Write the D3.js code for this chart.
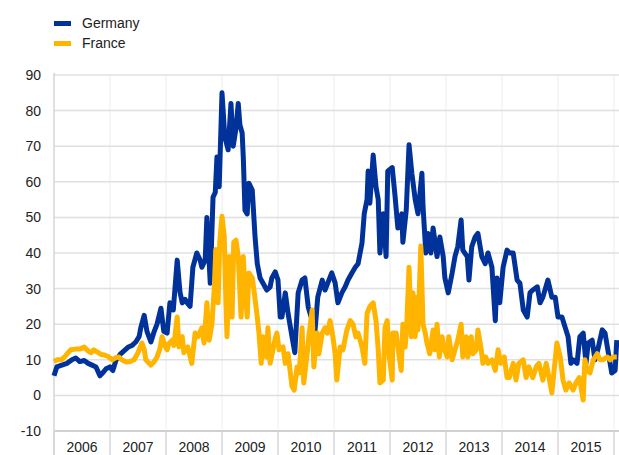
<!DOCTYPE html>
<html><head><meta charset="utf-8">
<script src="https://cdn.jsdelivr.net/npm/d3@7"></script>
<style>body{margin:0;background:#fff;}svg{display:block;font-family:"Liberation Sans",Arial,sans-serif;}</style>
</head><body><svg id="c" width="619" height="455"></svg>
<script>
const seriesNames = ["Germany", "France"];
const seriesColors = ["#003299", "#FFB400"];
const yTicks = [-10, 0, 10, 20, 30, 40, 50, 60, 70, 80, 90];
const yearLabels = ["2006","2007","2008","2009","2010","2011","2012","2013","2014","2015"];

const germanyDates = [2006.00,2006.05,2006.14,2006.23,2006.32,2006.39,2006.46,2006.54,2006.61,2006.68,2006.75,2006.82,2006.88,2006.93,
2007.00,2007.05,2007.11,2007.18,2007.25,2007.32,2007.39,2007.46,2007.52,2007.55,2007.61,2007.66,2007.73,2007.79,2007.84,2007.91,2007.96,
2008.02,2008.07,2008.13,2008.20,2008.25,2008.29,2008.34,2008.38,2008.43,2008.48,2008.55,2008.61,2008.64,2008.70,2008.73,2008.79,2008.84,2008.88,2008.91,2008.95,
2009.00,2009.05,2009.11,2009.16,2009.20,2009.25,2009.29,2009.32,2009.36,2009.38,2009.41,2009.45,2009.48,2009.54,2009.59,2009.63,2009.68,2009.73,2009.80,2009.86,2009.89,2009.95,
2010.00,2010.04,2010.07,2010.13,2010.18,2010.25,2010.30,2010.36,2010.43,2010.48,2010.54,2010.61,2010.66,2010.71,2010.79,2010.84,2010.89,2010.96,
2011.02,2011.07,2011.14,2011.20,2011.25,2011.32,2011.38,2011.43,2011.50,2011.54,2011.59,2011.61,2011.64,2011.70,2011.75,2011.79,2011.82,2011.88,2011.93,2011.96,
2012.04,2012.09,2012.14,2012.21,2012.23,2012.29,2012.34,2012.39,2012.45,2012.50,2012.57,2012.59,2012.64,2012.68,2012.73,2012.77,2012.84,2012.89,2012.95,2012.98,
2013.04,2013.11,2013.16,2013.21,2013.27,2013.30,2013.38,2013.41,2013.46,2013.52,2013.57,2013.64,2013.70,2013.75,2013.82,2013.88,2013.91,2013.96,
2014.02,2014.09,2014.14,2014.20,2014.27,2014.32,2014.38,2014.45,2014.50,2014.55,2014.63,2014.68,2014.73,2014.82,2014.89,2014.95,
2015.00,2015.07,2015.13,2015.18,2015.23,2015.27,2015.34,2015.39,2015.45,2015.50,2015.54,2015.61,2015.66,2015.71,2015.79,2015.84,2015.89,2015.96,2016.02,2016.05];
const germanyValues = [5.5,8,8.5,9,10,10.5,9.5,9.8,9,8.5,8,5.5,6.5,7.5,
8,7,10,11.5,12.5,13.5,14,15,16.5,19,22.5,18,15,18,20,24.5,18,
17.5,26,24,38,29,26,27,26,25,36,40,38,36,38,50,31.5,55.7,57,67,58.6,
85,72.6,69,82,70,75,82,76,73.7,67,52,51,59.6,57.7,44.6,37,33,31.6,29.6,30.5,33,34.7,
32.4,22,22,28.8,23,16.5,12,28.8,32.4,33,24.8,21,18,27.6,32.4,29.6,31.6,34.4,
31.6,26,28.8,30.5,32.4,34.4,36,37,42.8,51,55,63,54,67.5,58.6,55,40,51,39,63,
64,56,47,51,43,52,70.4,62.4,55,51,62.4,53,40,45.5,40,47,39,44.5,39,33,
28.8,34.4,39,41.8,49.3,40.8,39,32.4,41.8,44.5,45.5,39,37,40,36,21,33,26,
36,40.8,40,40,32.4,31.5,24,22,28.8,29.6,30.5,26,27.6,32.4,27.6,27.6,
22,22,19,16.5,9,10,9,16.5,17.5,9,14.7,15.5,10,12.8,18.4,17.5,12.8,6.3,7,15.5];

const franceDates = [2006.00,2006.05,2006.13,2006.20,2006.25,2006.30,2006.38,2006.46,2006.54,2006.61,2006.66,2006.71,2006.79,2006.84,2006.89,2006.96,
2007.04,2007.09,2007.16,2007.21,2007.29,2007.36,2007.43,2007.50,2007.57,2007.61,2007.64,2007.70,2007.73,2007.79,2007.84,2007.89,2007.93,2007.98,
2008.02,2008.05,2008.11,2008.14,2008.20,2008.23,2008.29,2008.32,2008.39,2008.46,2008.52,2008.57,2008.64,2008.68,2008.73,2008.77,2008.82,2008.86,2008.89,2008.93,2008.96,
2009.00,2009.04,2009.07,2009.09,2009.13,2009.18,2009.21,2009.25,2009.29,2009.34,2009.38,2009.41,2009.45,2009.48,2009.54,2009.57,2009.63,2009.66,2009.70,2009.73,2009.79,2009.82,2009.86,2009.91,2009.95,2009.98,
2010.02,2010.09,2010.13,2010.18,2010.25,2010.29,2010.34,2010.38,2010.43,2010.46,2010.52,2010.55,2010.61,2010.64,2010.70,2010.73,2010.79,2010.84,2010.88,2010.93,2010.98,
2011.02,2011.05,2011.11,2011.16,2011.23,2011.29,2011.34,2011.39,2011.43,2011.50,2011.55,2011.59,2011.64,2011.70,2011.75,2011.79,2011.82,2011.88,2011.91,2011.95,2011.98,
2012.04,2012.05,2012.11,2012.14,2012.20,2012.23,2012.27,2012.30,2012.34,2012.38,2012.41,2012.45,2012.48,2012.50,2012.55,2012.59,2012.63,2012.66,2012.71,2012.77,2012.80,2012.84,2012.88,2012.93,2012.96,
2013.02,2013.05,2013.11,2013.16,2013.21,2013.27,2013.30,2013.36,2013.39,2013.45,2013.48,2013.54,2013.57,2013.63,2013.66,2013.71,2013.75,2013.82,2013.88,2013.93,2013.98,
2014.04,2014.09,2014.13,2014.20,2014.25,2014.30,2014.38,2014.43,2014.48,2014.55,2014.61,2014.66,2014.73,2014.79,2014.84,2014.89,2014.95,2014.98,
2015.04,2015.09,2015.14,2015.20,2015.27,2015.32,2015.38,2015.45,2015.48,2015.52,2015.57,2015.63,2015.70,2015.75,2015.80,2015.88,2015.93,2015.98,2016.05];
const franceValues = [9.5,10,10,11,12,12.8,13,13,13.6,12.5,12,12.8,12,11.5,11.4,11,
10,10.5,10.8,10,9.4,9.5,10,12,14.7,13,10,9,8.5,9.5,10.8,13,16.5,14,
12.8,14.5,15.5,14,22,13.6,16.5,12,13.6,9,17.5,16.5,19,14.7,26,15.5,20,29.6,41,26,43,
50.3,44.6,26,16.5,39,22,43,43.6,39,22,39,29.6,22,34.4,33,29.6,22,17.5,9,16.5,10.8,19,9,12.8,16,17.5,
12.8,13.6,9,11.7,2.5,1.5,8,6.3,19,3.5,11.7,16.5,24,8,17.5,11.7,17.5,19,17.5,21,16.5,
11.7,4.3,13.6,12.8,18.4,21,20,16.5,17.5,13.6,9,23,25,26,21,12.8,3.5,4.3,19,21,11.7,
4.3,17.5,17.5,13.6,7,20,13.6,20,36,16.5,28.8,16.5,27.6,18.4,42,20,17.5,14.7,11.7,18.4,12.8,20,10.8,16.5,13.6,
10.8,16.5,10,12.8,15.5,20,10.8,16.5,10.8,16.5,11.7,12.8,18.4,12.8,9,10.8,9,10,7,12.8,9,
10.8,5,5,9,4.3,9,10,5,8,5,8,9,4.3,9,5,0.7,10,14.7,
10.8,4.3,1.5,3.5,1.5,3.5,5,-1.3,10,7,6.3,10,11.7,10,10,10.8,10,10.8,10.8];

const svg = d3.select("#c");
const plotLeft = 54, plotRight = 619, axisRight = 614, plotTop = 75, plotBottom = 431;
const x = d3.scaleLinear().domain([2006, 2016]).range([plotLeft, axisRight]);
const y = d3.scaleLinear().domain([-10, 90]).range([plotBottom, plotTop]);

const yearBounds = d3.range(2006, 2017);
svg.append("g").selectAll("line").data(yearBounds.slice(1)).join("line")
  .attr("x1", d => x(d)).attr("x2", d => x(d)).attr("y1", plotTop).attr("y2", plotBottom)
  .attr("stroke", "#ededed").attr("stroke-width", 1);

svg.append("g").selectAll("line").data(yTicks).join("line")
  .attr("x1", plotLeft).attr("x2", plotRight).attr("y1", d => y(d)).attr("y2", d => y(d))
  .attr("stroke", d => d === -10 ? "#d0d0d0" : "#e0e0e0").attr("stroke-width", d => d === -10 ? 2 : 1.5);

svg.append("line").attr("x1", plotLeft).attr("x2", plotLeft).attr("y1", plotTop - 2).attr("y2", 455)
  .attr("stroke", "#d6d6d6").attr("stroke-width", 1.5);

svg.append("g").selectAll("text").data(yTicks).join("text")
  .attr("x", 41).attr("y", d => y(d)).attr("dy", "0.35em").attr("text-anchor", "end")
  .attr("font-size", 14).attr("fill", "#222").text(d => d);

svg.append("g").selectAll("line").data(yearBounds).join("line")
  .attr("x1", d => x(d)).attr("x2", d => x(d)).attr("y1", plotBottom).attr("y2", 455)
  .attr("stroke", "#d6d6d6").attr("stroke-width", 1.5);
svg.append("g").selectAll("text").data(yearLabels).join("text")
  .attr("x", d => x(+d + 0.5)).attr("y", 447).attr("dy", "0.35em").attr("text-anchor", "middle")
  .attr("font-size", 14).attr("fill", "#222").text(d => d);

const series = [
  {name: seriesNames[0], color: seriesColors[0], pts: germanyDates.map((d, i) => [d, germanyValues[i]])},
  {name: seriesNames[1], color: seriesColors[1], pts: franceDates.map((d, i) => [d, franceValues[i]])}
];
const line = d3.line().x(d => x(d[0])).y(d => y(d[1]));
svg.append("g").selectAll("path").data(series).join("path")
  .attr("d", d => line(d.pts)).attr("fill", "none").attr("stroke", d => d.color)
  .attr("stroke-width", 5).attr("stroke-linejoin", "round").attr("stroke-linecap", "butt");

const lg = svg.append("g").selectAll("g").data(series).join("g")
  .attr("transform", (d, i) => `translate(54, ${21 + i * 20})`);
lg.append("rect").attr("width", 17).attr("height", 5).attr("fill", d => d.color);
lg.append("text").attr("x", 28).attr("y", 2.5).attr("dy", "0.35em").attr("font-size", 14)
  .attr("fill", "#222").text(d => d.name);
</script></body></html>
